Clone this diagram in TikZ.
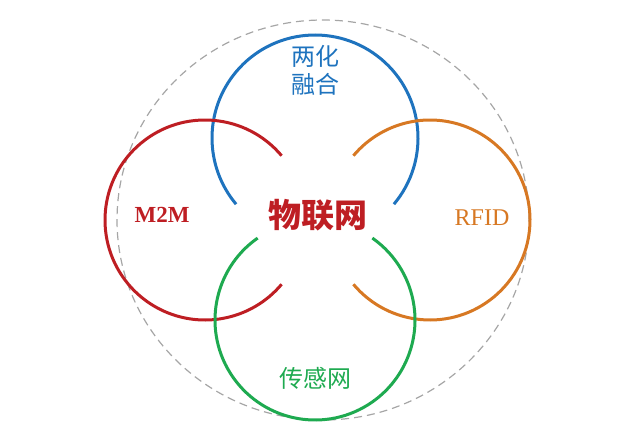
\documentclass[tikz,border=0pt]{standalone}
\usepackage{fontspec}
\newfontfamily\cjk{Noto Sans CJK SC}
\setmainfont{Liberation Serif}
\usetikzlibrary{positioning}
\definecolor{ringblue}{RGB}{30,115,190}
\definecolor{ringred}{RGB}{190,30,35}
\definecolor{ringorange}{RGB}{215,120,35}
\definecolor{ringgreen}{RGB}{30,170,80}
\begin{document}
\begin{tikzpicture}[x=1pt,y=1pt,
    ring/.style={line width=3pt},
    label/.style={font=\cjk\fontsize{24}{28}\selectfont, align=center}
]
\useasboundingbox (0,0) rectangle (636,421);
\draw[gray!70, dash pattern=on 8pt off 5pt, line width=1.2pt] (323,201) ellipse (206 and 200);
% rings
\draw[ring, ringblue] (315,283) ++(-40:103) arc (-40:220:103);
\draw[ring, ringred] (205,201) ++(40:100) arc (40:320:100);
\draw[ring, ringorange] (430,201) ++(-140:100) arc (-140:140:100);
\draw[ring, ringgreen] (315,101) ++(125:100) arc (125:415:100);
% labels
\node[font=\bfseries\fontsize{23}{26}\selectfont, ringred] (mtm) at (162,206) {M2M};
\node[label, ringblue] (fusion) at (315,351) {两化\\融合};
\node[label, ringred, font=\cjk\bfseries\fontsize{33}{36}\selectfont] (iot) at (318,206) {物联网};
\node[font=\fontsize{24}{28}\selectfont, ringorange] (rfid) at (482,203) {RFID};
\node[label, ringgreen] (sensor) at (315,43) {传感网};
\end{tikzpicture}
\end{document}
